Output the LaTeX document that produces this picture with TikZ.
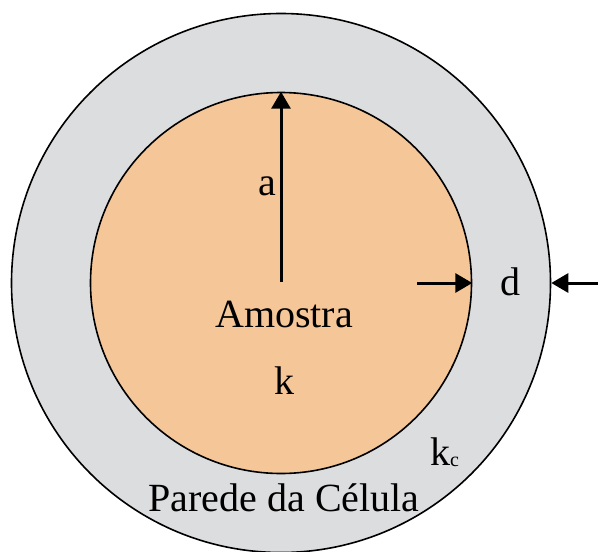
\documentclass[tikz,border=0pt]{standalone}
\usepackage{fontspec}
\setmainfont{Liberation Serif}
\usepackage{xcolor}
\usepackage{tikz}
\usetikzlibrary{positioning,arrows.meta}
\definecolor{wallgray}{HTML}{DCDDDF}
\definecolor{sampleorange}{HTML}{F5C698}

\begin{document}
\begin{tikzpicture}[
        x=1pt, y=-1pt,
        disc/.style={circle, draw=black, line width=1.6pt, inner sep=0pt},
        label text/.style={font=\fontsize{40}{46}\selectfont, inner sep=0pt},
        arrow/.style={-{Triangle[length=17pt,width=19pt]}, line width=3pt}
    ]
        \useasboundingbox (0,0) rectangle (598,552);
        \node[disc, fill=wallgray, minimum size=539pt] (wall) at (281,283) {};
        \node[disc, fill=sampleorange, minimum size=381pt] (sample) at (281,283) {};

        \coordinate (centre) at (281,282);
        \coordinate (dstart) at (417,283);
        \coordinate (dend) at (598,283);

        \node[label text] (amostra) at (284,314) {Amostra};
        \node[label text] (k) at (284,381) {k};
        \node[label text, anchor=east] (a) at (276,186) {a};
        \node[label text] (d) at (510,282) {d};
        \node[label text, anchor=west] (kc) at (430,452) {k\raisebox{-1pt}{\fontsize{20}{20}\selectfont c}};
        \node[label text] (parede) at (284,498) {Parede da Célula};

        \draw[arrow] (centre) -- (sample.north);
        \draw[arrow] (dstart) -- (sample.east);
        \draw[arrow] (dend) -- (wall.east);
    \end{tikzpicture}
\end{document}
